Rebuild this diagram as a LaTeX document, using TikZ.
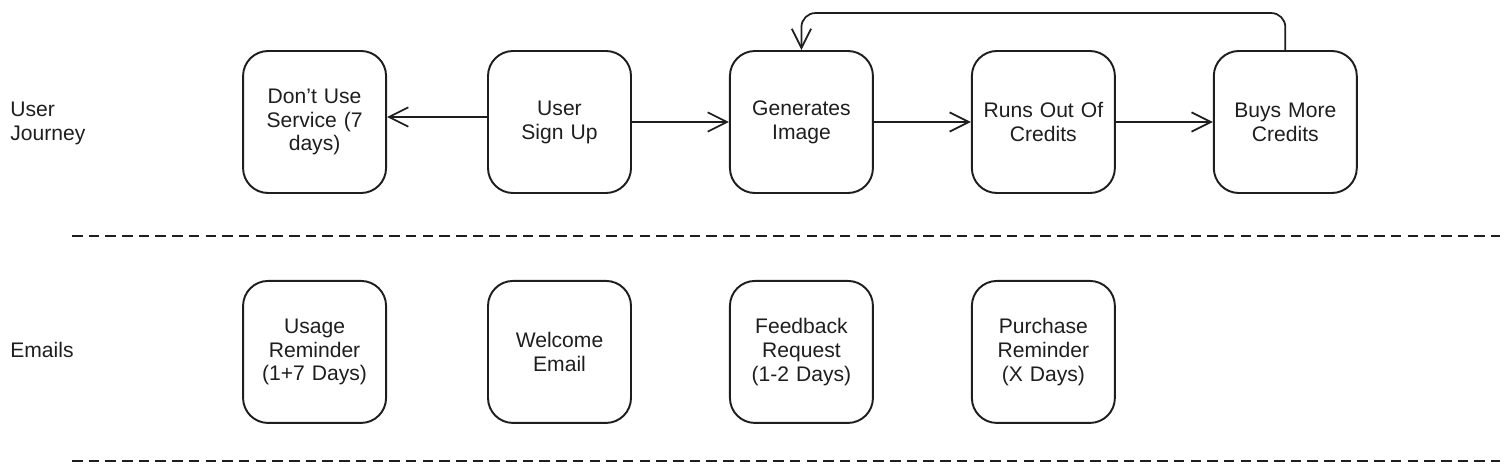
\documentclass[tikz,border=0pt]{standalone}
\usepackage{fontspec}
\setmainfont{Liberation Sans}
\usetikzlibrary{arrows.meta}
\usetikzlibrary{positioning}
\definecolor{ink}{HTML}{1E1E1E}
\tikzstyle{stage} = [rectangle, rounded corners=0.5cm, minimum width=2.86cm, minimum height=2.84cm, text width=2.6cm, align=center, draw=ink, line width=1.1pt, text=ink, font=\fontsize{12}{13.6}\selectfont]
\tikzstyle{lane} = [anchor=west, align=left, inner sep=0pt, text=ink, font=\fontsize{12}{13.6}\selectfont]
\tikzstyle{arrow} = [line width=1pt, draw=ink, -{Straight Barb[length=11pt,width=11pt]}]
\tikzstyle{divider} = [line width=1.1pt, draw=ink, dash pattern=on 6pt off 3.5pt]

\begin{document}
\begin{tikzpicture}[node distance=1.94cm]
		\useasboundingbox (0,0) rectangle (30.2,-9.44);

		\node (journey_label) [lane] at (0.2,-2.46) {User\\Journey};
		\node (emails_label) [lane] at (0.2,-7.0) {Emails};

		\node (sign_up) [stage] at (11.19,-2.44) {User\\Sign Up};
		\node (dont_use) [stage, left=2.0cm of sign_up] {Don't Use\\Service (7\\days)};
		\node (generates) [stage, right=of sign_up] {Generates\\Image};
		\node (runs_out) [stage, right=of generates] {Runs Out Of\\Credits};
		\node (buys_more) [stage, right=of runs_out] {Buys More\\Credits};

		\node (usage_reminder) [stage, below=1.72cm of dont_use] {Usage\\Reminder\\(1+7 Days)};
		\node (welcome_email) [stage, below=1.72cm of sign_up] {Welcome\\Email};
		\node (feedback_request) [stage, below=1.72cm of generates] {Feedback\\Request\\(1-2 Days)};
		\node (purchase_reminder) [stage, below=1.72cm of runs_out] {Purchase\\Reminder\\(X Days)};

		\draw[arrow] ([yshift=0.1cm]sign_up.west) -- ([yshift=0.1cm]dont_use.east);
		\draw[arrow] (sign_up) -- (generates);
		\draw[arrow] (generates) -- (runs_out);
		\draw[arrow] (runs_out) -- (buys_more);
		\draw[arrow, rounded corners=8pt] (buys_more.north) -- ++(0,0.74) -| (generates.north);

		% lane dividers
		\coordinate (div_top_w) at (1.44,-4.72);
		\coordinate (div_top_e) at (30.0,-4.72);
		\coordinate (div_bot_w) at (1.44,-9.22);
		\coordinate (div_bot_e) at (30.0,-9.22);
		\draw[divider] (div_top_w) -- (div_top_e);
		\draw[divider] (div_bot_w) -- (div_bot_e);
	\end{tikzpicture}
\end{document}
